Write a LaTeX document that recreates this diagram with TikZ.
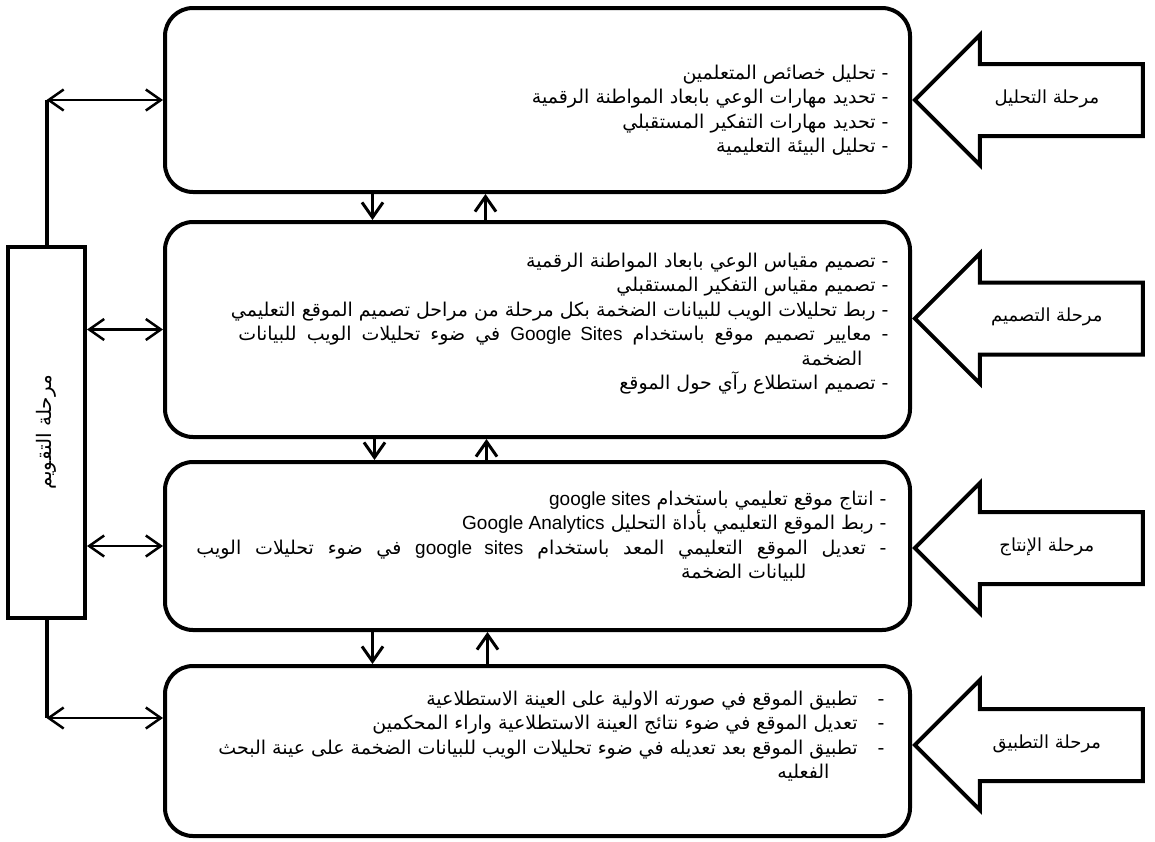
\documentclass[tikz,border=0pt]{standalone}
\usepackage{fontspec}
\setmainfont{Liberation Sans}
\newfontfamily\arabicfont[Script=Arabic]{DejaVu Sans}
\usetikzlibrary{arrows.meta,shapes.arrows,positioning}
\TeXXeTstate=1
\newcommand{\artext}[1]{{\arabicfont\beginR #1\endR}}
\newcommand{\engtext}[1]{{\normalfont\beginL #1\endL}}
\newcommand{\itemfont}{\fontsize{19}{24.5}\selectfont}
\tikzset{
    phase/.style={draw,line width=4pt,rounded corners=28pt,minimum width=745pt,inner sep=0pt},
    evalbox/.style={draw,line width=4pt,minimum width=77pt,minimum height=371pt},
    phasearrow/.style={single arrow,draw,line width=4pt,shape border rotate=180,anchor=tip,
        minimum height=228pt,single arrow head extend=29pt,inner xsep=0pt,inner ysep=27pt,
        text height=10pt,text depth=4pt,font=\fontsize{18}{20}\selectfont},
    items/.style={align=right,font=\itemfont},
    flow/.style={-{Straight Barb[length=15pt,width=21pt]},line width=3pt},
    link/.style={{Straight Barb[length=15pt,width=21pt]}-{Straight Barb[length=15pt,width=21pt]},line width=2.5pt},
}

\begin{document}
\begin{tikzpicture}[x=1pt,y=-1pt]
    \useasboundingbox (0,0) rectangle (1155,841);

    % phases
    \node[phase,minimum height=184pt] (p1) at (537.5,100) {};
    \node[phase,minimum height=215pt] (p2) at (537.5,329.5) {};
    \node[phase,minimum height=168pt] (p3) at (537.5,546) {};
    \node[phase,minimum height=170pt] (p4) at (537.5,751) {};
    \node[evalbox] (eval) at (46.5,432.5) {};
    \node[rotate=90,font=\fontsize{20}{22}\selectfont] (evaltxt) at (eval.center) {\artext{مرحلة التقويم}};

    \node[items,left=20pt of p1.east,yshift=-10pt] (t1) {%
        \artext{- تحليل خصائص المتعلمين}\\
        \artext{- تحديد مهارات الوعي بابعاد المواطنة الرقمية}\\
        \artext{- تحديد مهارات التفكير المستقبلي}\\
        \artext{- تحليل البيئة التعليمية}};
    \node[items,left=20pt of p2.east,yshift=6pt] (t2) {%
        \artext{- تصميم مقياس الوعي بابعاد المواطنة الرقمية}\\
        \artext{- تصميم مقياس التفكير المستقبلي}\\
        \artext{- ربط تحليلات الويب للبيانات الضخمة بكل مرحلة من مراحل تصميم الموقع التعليمي}\\
        \makebox[650pt][s]{\artext{- معايير تصميم موقع باستخدام \engtext{Google Sites} في ضوء تحليلات الويب للبيانات}}\\
        \artext{\hspace*{26pt}الضخمة}\\
        \artext{- تصميم استطلاع رآي حول الموقع}};
    \node[items,left=22pt of p3.east,yshift=10pt] (t3) {%
        \artext{- انتاج موقع تعليمي باستخدام \engtext{google sites}}\\
        \artext{- ربط الموقع التعليمي بأداة التحليل \engtext{Google Analytics}}\\
        \makebox[690pt][s]{\artext{- تعديل الموقع التعليمي المعد باستخدام \engtext{google sites} في ضوء تحليلات الويب}}\\
        \artext{\hspace*{80pt}للبيانات الضخمة}};
    \node[items,left=24pt of p4.east,yshift=15pt] (t4) {%
        \artext{-\hspace{20pt}تطبيق الموقع في صورته الاولية على العينة الاستطلاعية}\\
        \artext{-\hspace{20pt}تعديل الموقع في ضوء نتائج العينة الاستطلاعية واراء المحكمين}\\
        \artext{-\hspace{20pt}تطبيق الموقع بعد تعديله في ضوء تحليلات الويب للبيانات الضخمة على عينة البحث}\\
        \artext{\hspace*{55pt}الفعليه}};

    % block arrows
    \node[phasearrow] (a1) at (p1.east) {\artext{مرحلة التحليل}};
    \node[phasearrow] (a2) at ([yshift=11pt]p2.east) {\artext{مرحلة التصميم}};
    \node[phasearrow] (a3) at ([yshift=-2pt]p3.east) {\artext{مرحلة الإنتاج}};
    \node[phasearrow] (a4) at ([yshift=6pt]p4.east) {\artext{مرحلة التطبيق}};

    % between phases
    \draw[flow] ([xshift=-165pt]p1.south) -- ([xshift=-165pt]p2.north);
    \draw[flow] ([xshift=-52pt]p2.north) -- ([xshift=-52pt]p1.south);
    \draw[flow] ([xshift=-163pt]p2.south) -- ([xshift=-163pt]p3.north);
    \draw[flow] ([xshift=-51pt]p3.north) -- ([xshift=-51pt]p2.south);
    \draw[flow] ([xshift=-165pt]p3.south) -- ([xshift=-165pt]p4.north);
    \draw[flow] ([xshift=-50pt]p4.north) -- ([xshift=-50pt]p3.south);

    % evaluation links
    \coordinate (p4in) at ([yshift=33pt]p4.west);
    \draw[line width=4pt] (eval.north) -- (eval.north |- p1.west);
    \draw[link] (eval.north |- p1.west) -- (p1.west);
    \draw[link] (eval.east |- p2.west) -- (p2.west);
    \draw[link] (eval.east |- p3.west) -- (p3.west);
    \draw[line width=4pt] (eval.south) -- (eval.south |- p4in);
    \draw[link] (eval.south |- p4in) -- (p4in);
\end{tikzpicture}
\end{document}
